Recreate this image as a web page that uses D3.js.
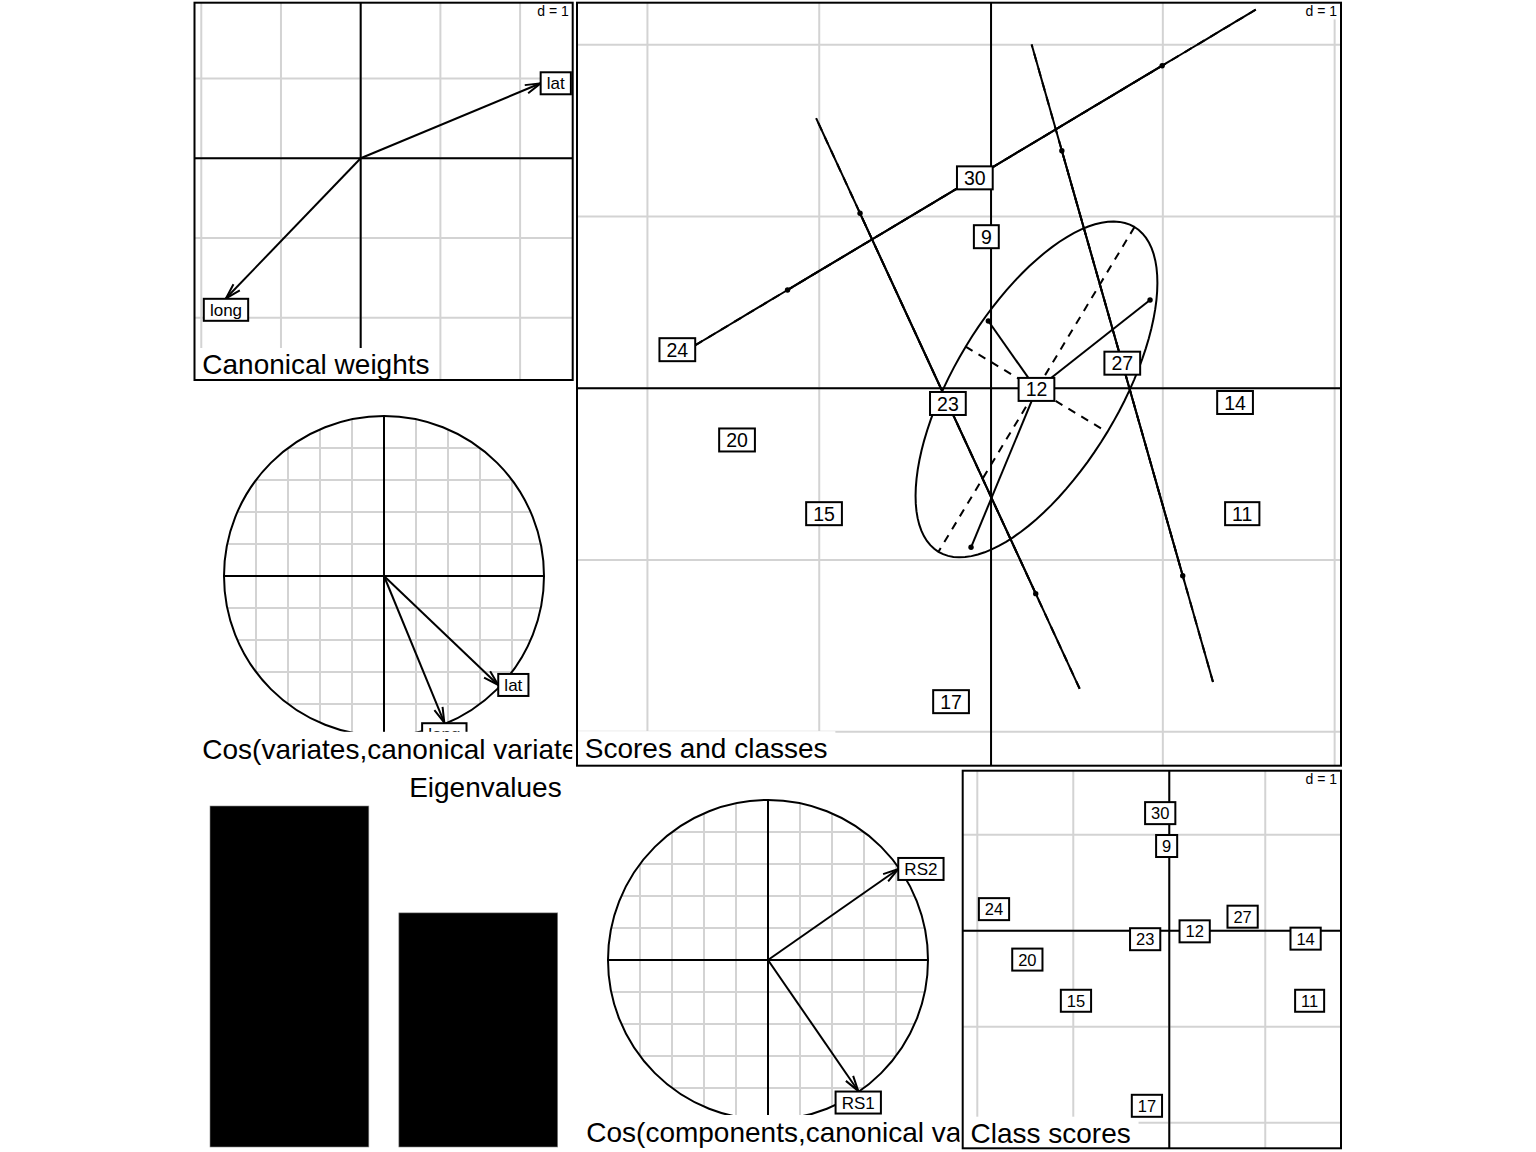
<!DOCTYPE html>
<html><head><meta charset="utf-8">
<script src="https://cdn.jsdelivr.net/npm/d3@7"></script>
<style>body{margin:0;background:#fff}svg text{font-family:"Liberation Sans",Arial,Helvetica,sans-serif}</style>
</head><body><svg id="c" width="1536" height="1152"></svg>
<script>
// ---------------- data ----------------
const classLabels = ["9","11","12","14","15","17","20","23","24","27","30"];
const indivClass = ["30","30","23","23","27","27","12","12","12","9","24","14","20","15","11","17"];
const indivX = [-1.1845,0.9959,-0.7625,0.2602,0.4121,1.1158,-0.0157,0.9255,-0.1164,-0.0274,-1.8260,1.4203,-1.4785,-0.9721,1.4622,-0.2328];
const indivY = [0.5722,1.8777,1.0186,-1.1956,1.3830,-1.0908,0.3917,0.5140,-0.9255,0.8824,0.2247,-0.0827,-0.3009,-0.7299,-0.7299,-1.8242];
const variables = ["lat","long"];
const weightX = [2.258,-1.690];
const weightY = [0.941,-1.757];
const cosVarX = [0.714,0.377];
const cosVarY = [-0.681,-0.917];
const components = ["RS1","RS2"];
const cosCompX = [0.564,0.814];
const cosCompY = [-0.819,0.569];
const eigLabels = ["1","2"];
const eigValues = [0.82,0.563];

// ---------------- helpers ----------------
const svg = d3.select("#c");
const GRID = "#d3d3d3";
function measure(t, fs){
  const el = svg.append("text").attr("font-size",fs).text(t);
  const w = el.node().getComputedTextLength(); el.remove(); return w;
}
let clipId = 0;
function clipRect(x0,y0,x1,y1){
  const id = "clip"+(clipId++);
  svg.append("clipPath").attr("id",id).append("rect")
    .attr("x",x0).attr("y",y0).attr("width",x1-x0).attr("height",y1-y0);
  return "url(#"+id+")";
}
function panel(P){
  return svg.append("g").attr("clip-path",clipRect(P.x0,P.y0,P.x1,P.y1));
}
function border(P){
  svg.append("rect").attr("x",P.x0).attr("y",P.y0).attr("width",P.x1-P.x0).attr("height",P.y1-P.y0)
    .attr("fill","none").attr("stroke","#000").attr("stroke-width",2);
}
function gridLines(g,P,sx,sy,step){
  const dx = sx.domain(), dy = sy.domain();
  const xs = d3.range(Math.ceil(dx[0]/step)*step, dx[1], step);
  const ys = d3.range(Math.ceil(dy[0]/step)*step, dy[1], step);
  g.selectAll(null).data(xs).join("line").attr("x1",d=>sx(d)).attr("x2",d=>sx(d))
    .attr("y1",P.y0).attr("y2",P.y1).attr("stroke",GRID).attr("stroke-width",2);
  g.selectAll(null).data(ys).join("line").attr("y1",d=>sy(d)).attr("y2",d=>sy(d))
    .attr("x1",P.x0).attr("x2",P.x1).attr("stroke",GRID).attr("stroke-width",2);
}
function axesCross(g,P,sx,sy){
  g.append("line").attr("x1",sx(0)).attr("x2",sx(0)).attr("y1",P.y0).attr("y2",P.y1).attr("stroke","#000").attr("stroke-width",2);
  g.append("line").attr("y1",sy(0)).attr("y2",sy(0)).attr("x1",P.x0).attr("x2",P.x1).attr("stroke","#000").attr("stroke-width",2);
}
function dLabel(g,P,txt){
  const fs=14, sp=0.278*fs, w=measure(txt,fs)+2*sp, h=16.7;
  g.append("rect").attr("x",P.x1-w).attr("y",P.y0).attr("width",w).attr("height",h).attr("fill","#fff");
  g.append("text").attr("x",P.x1-w/2).attr("y",P.y0+h/2+0.36*fs).attr("text-anchor","middle")
    .attr("font-size",fs).text(txt);
}
// visible part of a title that the panel clips on its right side
function fitText(txt,fs,avail){
  let s="";
  for(const ch of txt){
    if(measure(s,fs)>=avail) break;
    s+=ch;
  }
  return s;
}
function sub(g,P,txt,pos,h){
  h = h||33.4;
  const fs=28, sp=0.278*fs;
  if(pos==="topright"){
    const w=measure(txt,fs)+2*sp;
    g.append("rect").attr("x",P.x1-w).attr("y",P.y0).attr("width",w).attr("height",h).attr("fill","#fff");
    g.append("text").attr("x",P.x1-sp).attr("y",P.y0+h/2+0.358*fs).attr("text-anchor","end").attr("font-size",fs).text(txt);
  } else {
    const shown=fitText(txt,fs,P.x1-P.x0-sp);
    const w=Math.min(measure(txt,fs)+2*sp,P.x1-P.x0);
    g.append("rect").attr("x",P.x0).attr("y",P.y1-h).attr("width",w).attr("height",h).attr("fill","#fff");
    g.append("text").attr("x",P.x0+sp).attr("y",P.y1-h/2+0.358*fs).attr("text-anchor","start").attr("font-size",fs).text(shown);
  }
}
function boxLabel(g,cx,cy,txt,fs,h,anchor){
  const pad=0.36*fs, w=measure(txt,fs)+2*pad;
  let x=cx-w/2, y=cy-h/2;
  if(anchor==="left"){x=cx;}
  if(anchor==="right"){x=cx-w;}
  if(anchor==="top"){y=cy;}
  if(anchor==="bottom"){y=cy-h;}
  g.append("rect").attr("x",x).attr("y",y).attr("width",w).attr("height",h)
    .attr("fill","#fff").attr("stroke","#000").attr("stroke-width",2);
  g.append("text").attr("x",x+w/2).attr("y",y+h/2+0.36*fs).attr("text-anchor","middle")
    .attr("font-size",fs).text(txt);
}
function arrow(g,x0,y0,x1,y1){
  g.append("line").attr("x1",x0).attr("y1",y0).attr("x2",x1).attr("y2",y1).attr("stroke","#000").attr("stroke-width",2);
  const ang=Math.atan2(y1-y0,x1-x0), L=16, a=16*Math.PI/180;
  g.append("path").attr("d",`M${x1-L*Math.cos(ang-a)},${y1-L*Math.sin(ang-a)}L${x1},${y1}L${x1-L*Math.cos(ang+a)},${y1-L*Math.sin(ang+a)}`)
    .attr("fill","none").attr("stroke","#000").attr("stroke-width",2);
}
function arrowLabels(g,sx,sy,xs,ys,labs,fs,h){
  xs.forEach((vx,i)=>{
    arrow(g,sx(0),sy(0),sx(vx),sy(ys[i]));
  });
  xs.forEach((vx,i)=>{
    const vy=ys[i], px=sx(vx), py=sy(vy);
    let anc;
    if(vx>vy && vx>-vy) anc="left";          // label to the right of tip
    else if(vx>vy && vx<=-vy) anc="top";     // label below tip
    else if(vx<=vy && vx<=-vy) anc="right";  // label to the left
    else anc="bottom";                       // label above
    boxLabel(g,px,py+(anc==="top"?0.5:0),labs[i],fs,h,anc);
  });
}

// ---------------- panel 1 : canonical weights ----------------
{
  const P={x0:194.5,y0:2.7,x1:572.7,y1:380};
  const sx=d3.scaleLinear().domain([-2.085,2.660]).range([P.x0,P.x1]);
  const sy=d3.scaleLinear().domain([-2.782,1.952]).range([P.y1,P.y0]);
  const g=panel(P);
  gridLines(g,P,sx,sy,1);
  dLabel(g,P,"d = 1");
  axesCross(g,P,sx,sy);
  arrowLabels(g,sx,sy,weightX,weightY,variables,17,22);
  sub(g,P,"Canonical weights","bottomleft",32);
  border(P);
}

// ---------------- correlation circles ----------------
function corCircle(P,cx,cy,r,xs,ys,labs,title){
  const sx=d3.scaleLinear().domain([-1,1]).range([cx-r,cx+r]);
  const sy=d3.scaleLinear().domain([-1,1]).range([cy+r,cy-r]);
  const g=panel(P);
  const vals=d3.range(-4,5).map(k=>k/5).filter(v=>v!==0);
  vals.forEach(v=>{
    const e=Math.sqrt(1-v*v);
    g.append("line").attr("x1",sx(v)).attr("x2",sx(v)).attr("y1",sy(-e)).attr("y2",sy(e)).attr("stroke",GRID).attr("stroke-width",2);
    g.append("line").attr("y1",sy(v)).attr("y2",sy(v)).attr("x1",sx(-e)).attr("x2",sx(e)).attr("stroke",GRID).attr("stroke-width",2);
  });
  g.append("circle").attr("cx",sx(0)).attr("cy",sy(0)).attr("r",sx(1)-sx(0)).attr("fill","none").attr("stroke","#000").attr("stroke-width",2);
  g.append("line").attr("x1",sx(-1)).attr("x2",sx(1)).attr("y1",sy(0)).attr("y2",sy(0)).attr("stroke","#000").attr("stroke-width",2);
  g.append("line").attr("x1",sx(0)).attr("x2",sx(0)).attr("y1",sy(-1)).attr("y2",sy(1)).attr("stroke","#000").attr("stroke-width",2);
  const lg=g.append("g").attr("clip-path",clipRect(P.x0,P.y0,P.x1,P.y1-33));
  arrowLabels(lg,sx,sy,xs,ys,labs,17,22);
  sub(g,P,title,"bottomleft");
}
corCircle({x0:194.5,y0:386.7,x1:572.2,y1:765.2},384,576,160,cosVarX,cosVarY,variables,"Cos(variates,canonical variates)");
corCircle({x0:578.5,y0:770.7,x1:959.5,y1:1148.4},768,960,160,cosCompX,cosCompY,components,"Cos(components,canonical variates)");

// ---------------- main panel : scores and classes ----------------
{
  const P={x0:577,y0:2.7,x1:1341,y1:765.7};
  const sx=d3.scaleLinear().domain([-2.410,2.037]).range([P.x0,P.x1]);
  const sy=d3.scaleLinear().domain([-2.197,2.2445]).range([P.y1,P.y0]);
  const g=panel(P);
  gridLines(g,P,sx,sy,1);
  dLabel(g,P,"d = 1");
  axesCross(g,P,sx,sy);
  const groups=classLabels.map(c=>{
    const idx=indivClass.map((k,i)=>k===c?i:-1).filter(i=>i>=0);
    const xs=idx.map(i=>indivX[i]), ys=idx.map(i=>indivY[i]);
    const mx=d3.mean(xs), my=d3.mean(ys);
    const vx=d3.mean(xs,x=>(x-mx)*(x-mx)), vy=d3.mean(ys,y=>(y-my)*(y-my));
    const cxy=d3.mean(xs.map((x,j)=>(x-mx)*(ys[j]-my)));
    return {c,xs,ys,mx,my,vx,vy,cxy};
  });
  indivX.forEach((x,i)=>{
    g.append("circle").attr("cx",sx(x)).attr("cy",sy(indivY[i])).attr("r",2.7).attr("fill","#000");
  });
  groups.forEach(G=>{
    G.xs.forEach((x,j)=>{
      g.append("line").attr("x1",sx(G.mx)).attr("y1",sy(G.my)).attr("x2",sx(x)).attr("y2",sy(G.ys[j]))
        .attr("stroke","#000").attr("stroke-width",2);
    });
  });
  function ell(mx,my,vx,cxy,vy,coeff){
    if(vx<0)vx=0; if(vy<0)vy=0;
    if(vx===0&&vy===0) return null;
    let delta=Math.sqrt((vx-vy)*(vx-vy)+4*cxy*cxy);
    let l1=(vx+vy+delta)/2, l2=vx+vy-l1;
    if(l1<0)l1=0; if(l2<0)l2=0;
    l1=Math.sqrt(l1); l2=Math.sqrt(l2);
    let a0,b0,test=0;
    if(vx===0){a0=0;b0=1;test=1;}
    if(vy===0&&test===0){a0=1;b0=0;test=1;}
    if(Math.abs(cxy)<1e-10&&test===0){ if(vx>vy){a0=1;b0=0;}else{a0=0;b0=1;} test=1;}
    if(test===0){a0=1;b0=(l1*l1-vx)/cxy;const n=Math.hypot(a0,b0);a0/=n;b0/=n;}
    const c11=coeff*a0*l1, c12=-coeff*b0*l2, c21=coeff*b0*l1, c22=coeff*a0*l2;
    const pts=d3.range(100).map(i=>{const t=2*Math.PI*i/100;return [mx+c11*Math.cos(t)+c12*Math.sin(t), my+c21*Math.cos(t)+c22*Math.sin(t)];});
    return {pts, seg1:[mx+c11,my+c21,mx-c11,my-c21], seg2:[mx+c12,my+c22,mx-c12,my-c22]};
  }
  groups.forEach(G=>{
    const e=ell(G.mx,G.my,G.vx,G.cxy,G.vy,1.5);
    if(!e) return;
    g.append("path").attr("d",d3.line().x(p=>sx(p[0])).y(p=>sy(p[1]))(e.pts)+"Z")
      .attr("fill","none").attr("stroke","#000").attr("stroke-width",2);
    [e.seg1,e.seg2].forEach(s=>{
      g.append("line").attr("x1",sx(s[0])).attr("y1",sy(s[1])).attr("x2",sx(s[2])).attr("y2",sy(s[3]))
        .attr("stroke","#000").attr("stroke-width",2).attr("stroke-dasharray","8,7");
    });
  });
  groups.forEach(G=>boxLabel(g,sx(G.mx),sy(G.my),G.c,19.5,23));
  sub(g,P,"Scores and classes","bottomleft",34.5);
  border(P);

  // ---------------- class scores ----------------
  const Q={x0:962.7,y0:770.7,x1:1341,y1:1148.3};
  const qx=d3.scaleLinear().domain([-2.152,1.789]).range([Q.x0,Q.x1]);
  const qy=d3.scaleLinear().domain([-2.267,1.667]).range([Q.y1,Q.y0]);
  const h=panel(Q);
  gridLines(h,Q,qx,qy,1);
  dLabel(h,Q,"d = 1");
  axesCross(h,Q,qx,qy);
  sub(h,Q,"Class scores","bottomleft",31.6);
  groups.forEach(G=>boxLabel(h,qx(G.mx),qy(G.my),G.c,16.5,22));
  border(Q);
}

// ---------------- eigenvalues ----------------
{
  const P={x0:194.5,y0:770.7,x1:569.5,y1:1148.3};
  const g=panel(P);
  const bx=d3.scaleBand().domain(eigLabels).range([210,557.7]).paddingInner(0.159).paddingOuter(0);
  const by=d3.scaleLinear().domain([0,d3.max(eigValues)]).range([1147,806]);
  g.selectAll(null).data(eigValues).join("rect")
    .attr("x",(d,i)=>bx(eigLabels[i])).attr("width",bx.bandwidth())
    .attr("y",d=>by(d)).attr("height",d=>by(0)-by(d))
    .attr("fill","#000").attr("stroke","#888").attr("stroke-width",0.6);
  sub(g,P,"Eigenvalues","topright");
}
</script></body></html>
